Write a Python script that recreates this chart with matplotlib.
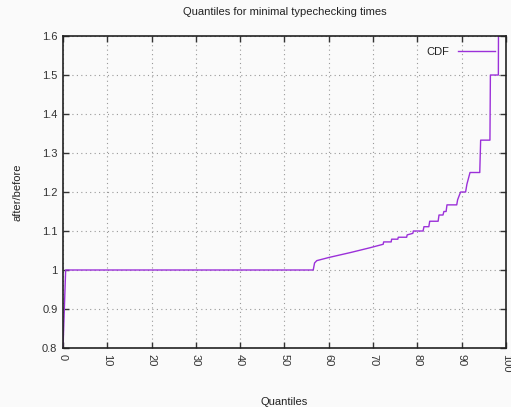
import matplotlib
matplotlib.use("Agg")
import matplotlib.pyplot as plt
from matplotlib.ticker import FormatStrFormatter, MultipleLocator

plt.rcParams['font.family'] = ['Liberation Sans', 'DejaVu Sans']

# quantile -> after/before ratio
quantiles = [0, 0.6, 1.0, 56.5, 56.8, 57.3, 60, 65, 69.3, 72.3, 72.4, 74.1, 74.2, 75.6, 75.7,
             77.6, 77.7, 79.0, 79.1, 81.3, 81.5, 82.6, 82.8, 84.7, 84.9, 85.8, 86.0, 86.5, 86.7,
             88.9, 89.1, 89.6, 89.8, 90.9, 91.2, 91.9, 94.1, 94.3, 96.4, 96.5, 98.3, 98.35]
ratios = [0.8, 1.0, 1.0, 1.0, 1.018, 1.024, 1.032, 1.045, 1.057, 1.066, 1.072, 1.072, 1.079, 1.079, 1.084,
          1.084, 1.09, 1.094, 1.1, 1.1, 1.111, 1.111, 1.125, 1.125, 1.141, 1.141, 1.15, 1.15, 1.167,
          1.167, 1.18, 1.195, 1.2, 1.2, 1.22, 1.25, 1.25, 1.333, 1.333, 1.5, 1.5, 1.7]

line_color = '#9b30d9'

fig = plt.figure(figsize=(5.11, 4.07), dpi=100)
fig.patch.set_facecolor('#fafafa')
ax = fig.add_axes([0.1233, 0.145, 0.8667, 0.7665])
ax.set_facecolor('#fafafa')

ax.plot(quantiles, ratios, color=line_color, lw=1.0, label='CDF')

ax.set_xlim(0, 100)
ax.set_ylim(0.8, 1.6)
ax.xaxis.set_major_locator(MultipleLocator(10))
ax.yaxis.set_major_locator(MultipleLocator(0.1))
ax.yaxis.set_major_formatter(FormatStrFormatter('%g'))

ax.tick_params(direction='in', length=4, width=1, top=True, right=True,
               labelsize=8, colors='#333333', pad=4)
for lbl in ax.get_xticklabels():
    lbl.set_rotation(-90)
    lbl.set_verticalalignment('top')
    lbl.set_horizontalalignment('center')

for s in ax.spines.values():
    s.set_color('#222222')
    s.set_linewidth(1.2)

ax.grid(True, color='#999999', linestyle=(0, (1, 3)), linewidth=0.8)

ax.set_title('Quantiles for minimal typechecking times', fontsize=8, color='#222222', pad=15)
ax.set_xlabel('Quantiles', fontsize=8, color='#222222', labelpad=18)
ax.set_ylabel('after/before', fontsize=8, color='#222222', labelpad=14)

leg = ax.legend(loc='upper right', frameon=False, markerfirst=False, fontsize=8,
                handlelength=3.3, borderaxespad=0.6)
for t in leg.get_texts():
    t.set_color('#222222')

fig.savefig('out.png', dpi=100, facecolor=fig.get_facecolor())
